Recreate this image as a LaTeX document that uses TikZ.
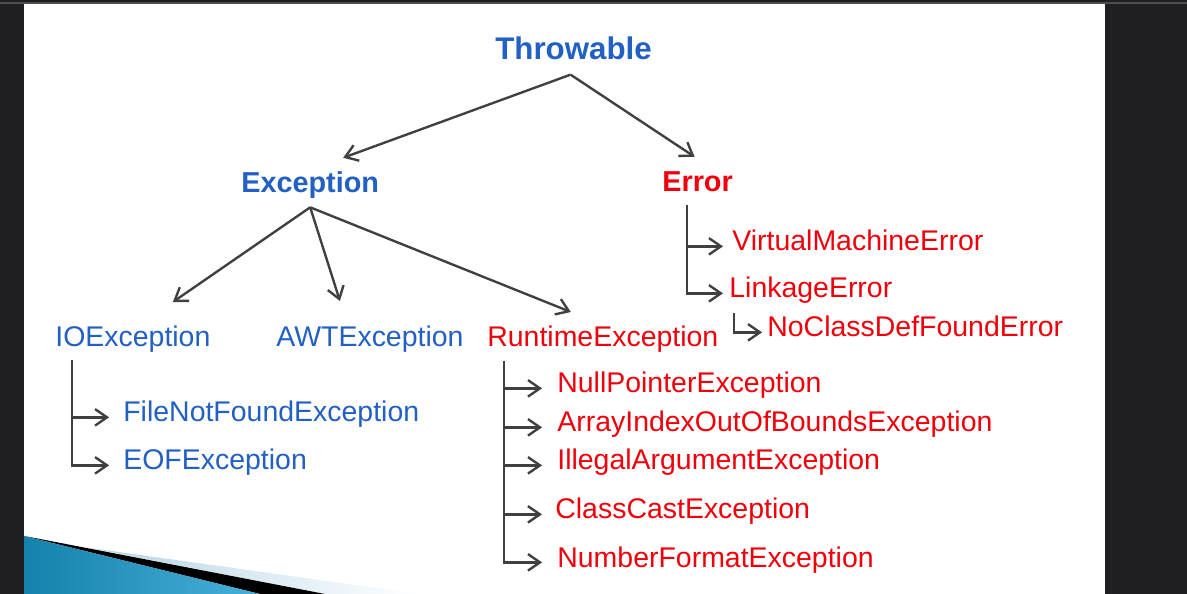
\documentclass[tikz,border=0pt]{standalone}
\usepackage{fontspec}
\setmainfont{Liberation Sans}
\usepackage{xcolor}
\definecolor{jblue}{RGB}{34,96,196}
\definecolor{jred}{RGB}{240,0,10}
\definecolor{argray}{RGB}{64,64,64}
\definecolor{bgdark}{RGB}{31,31,33}
\definecolor{rimgray}{RGB}{78,78,80}
\definecolor{swdark}{RGB}{20,130,172}
\definecolor{swlight}{RGB}{72,176,216}
\definecolor{swpale}{RGB}{182,213,230}
\usepackage{tikz}
\usetikzlibrary{arrows.meta,calc}

\begin{document}
\begin{tikzpicture}[
  x=0.02cm,y=-0.02cm,
  cls/.style={inner sep=0,anchor=base west,font=\fontsize{16.2}{19}\selectfont},
  bcls/.style={cls,text=jblue},
  rcls/.style={cls,text=jred},
  hd/.style={cls,font=\fontsize{16.4}{19}\selectfont\bfseries},
  ar/.style={-{Straight Barb[length=2.4mm,width=3.3mm]},argray,line width=1.35pt}
]
\useasboundingbox (0,0) rectangle (1187,594);
\fill[bgdark] (0,0) rectangle (1187,594);
\draw[rimgray,line width=0.6pt] (0,3) -- (1187,3);
\fill[white] (24,4) rectangle (1105,594);
% slide swoosh
\shade[left color=swpale,right color=white] (90,548) -- (420,594) -- (325,594) -- cycle;
\fill[black] (40,539) -- (325,594) -- (260,594) -- (24,536) -- cycle;
\shade[left color=swdark,right color=swlight] (24,536) -- (260,594) -- (24,594) -- cycle;

\node[hd,text=jblue,font=\fontsize{17.8}{20}\selectfont\bfseries] (thr) at (495,60) {Throwable};
\node[hd,text=jblue] (exc) at (241,193) {Exception};
\node[hd,text=jred] (err) at (662,192) {Error};
\node[bcls] (io) at (55,347) {IOException};
\node[bcls] (awt) at (276,347) {AWTException};
\node[rcls] (rt) at (487,347) {RuntimeException};
\node[bcls] (fnf) at (123,422) {FileNotFoundException};
\node[bcls] (eof) at (123,470) {EOFException};
\node[rcls] (np) at (557,393) {NullPointerException};
\node[rcls] (aio) at (557,432) {ArrayIndexOutOfBoundsException};
\node[rcls] (ia) at (557,470) {IllegalArgumentException};
\node[rcls] (cc) at (555,519) {ClassCastException};
\node[rcls] (nf) at (557,567) {NumberFormatException};
\node[rcls] (vm) at (732,251) {VirtualMachineError};
\node[rcls] (le) at (729,298) {LinkageError};
\node[rcls] (ncd) at (767,337) {NoClassDefFoundError};

\coordinate (iot) at (72,360);
\coordinate (rtt) at (504,361);
\coordinate (errt) at (687,205);
\coordinate (let) at (734,313);

\draw[ar] ($(thr.south)+(-3,14)$) -- ($(exc.north)+(33,-14)$);
\draw[ar] ($(thr.south)+(-3,14)$) -- ($(err.north)+(-3,-15)$);
\draw[ar] ($(exc.south)+(0,8)$) -- ($(io.north)+(40,-24)$);
\draw[ar] ($(exc.south)+(0,8)$) -- ($(awt.north)+(-30,-25)$);
\draw[ar] ($(exc.south)+(0,8)$) -- ($(rt.north)+(-32,-14)$);
\draw[ar,shorten >=7.9pt] (iot) |- (fnf.mid west); \draw[ar,shorten >=7.9pt] (iot) |- (eof.mid west);
\draw[ar,shorten >=8.5pt] (rtt) |- (np.mid west); \draw[ar,shorten >=8.5pt] (rtt) |- (aio.mid west);
\draw[ar,shorten >=8.5pt] (rtt) |- (ia.mid west); \draw[ar,shorten >=7.4pt] (rtt) |- (cc.mid west);
\draw[ar,shorten >=8.5pt] (rtt) |- (nf.mid west);
\draw[ar,shorten >=5.1pt] (errt) |- (vm.mid west); \draw[ar,shorten >=3.4pt] (errt) |- (le.mid west);
\draw[ar,shorten >=2.8pt] (let) |- (ncd.mid west);
\end{tikzpicture}
\end{document}
